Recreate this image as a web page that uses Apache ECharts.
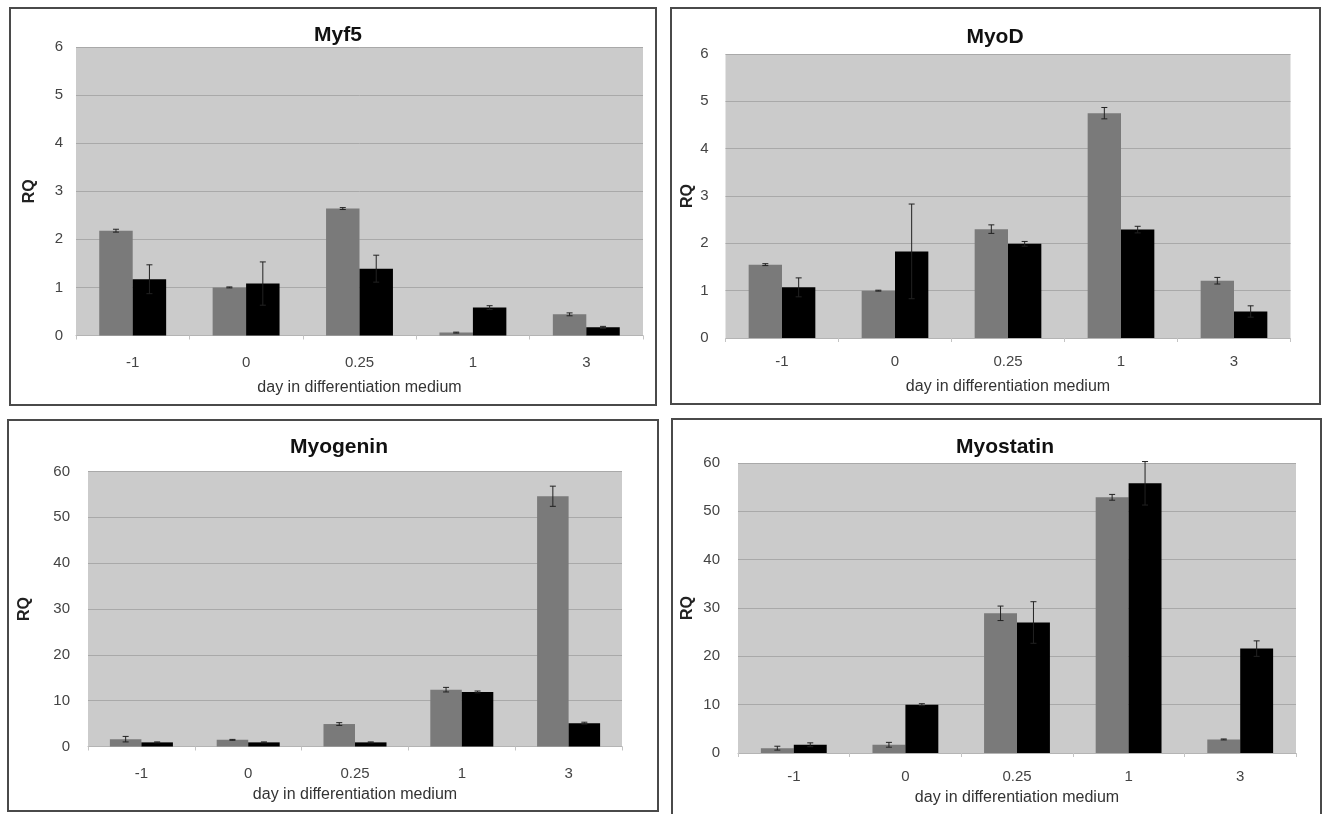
<!DOCTYPE html>
<html>
<head>
<meta charset="utf-8">
<script src="https://cdn.jsdelivr.net/npm/echarts@6/dist/echarts.min.js"></script>
<style>
html,body{margin:0;padding:0;background:#fff;}
#c{width:1326px;height:814px;}
</style>
</head>
<body>
<div id="c"></div>
<script>
// ---- data ----
const categories = ['-1', '0', '0.25', '1', '3'];
const titles = ['Myf5', 'MyoD', 'Myogenin', 'Myostatin'];
const yTicksSmall = [0, 1, 2, 3, 4, 5, 6];
const yTicksLarge = [0, 10, 20, 30, 40, 50, 60];

const myf5Gray     = [2.18, 1.00, 2.64, 0.06, 0.44];
const myf5GrayErr  = [0.03, 0.01, 0.02, 0.01, 0.03];
const myf5Black    = [1.17, 1.08, 1.39, 0.58, 0.17];
const myf5BlackErr = [0.30, 0.45, 0.28, 0.04, 0.02];

const myoDGray     = [1.55, 1.00, 2.30, 4.75, 1.21];
const myoDGrayErr  = [0.02, 0.01, 0.09, 0.12, 0.07];
const myoDBlack    = [1.07, 1.83, 1.99, 2.29, 0.56];
const myoDBlackErr = [0.20, 1.00, 0.05, 0.07, 0.12];

const myogeninGray     = [1.6, 1.45, 4.9, 12.4, 54.6];
const myogeninGrayErr  = [0.6, 0.1, 0.3, 0.5, 2.2];
const myogeninBlack    = [0.9, 0.9, 0.9, 11.9, 5.1];
const myogeninBlackErr = [0.1, 0.1, 0.1, 0.2, 0.2];

const myostatinGray     = [1.0, 1.7, 28.9, 52.9, 2.8];
const myostatinGrayErr  = [0.4, 0.5, 1.5, 0.6, 0.1];
const myostatinBlack    = [1.7, 10.0, 27.0, 55.8, 21.6];
const myostatinBlackErr = [0.4, 0.2, 4.3, 4.5, 1.6];

// ---- layout (not data) ----
const FONT = 'Liberation Sans, Arial, sans-serif';
const CAT_GAP = 0.41;
const panels = [
  {gray: myf5Gray, grayErr: myf5GrayErr, black: myf5Black, blackErr: myf5BlackErr, ticks: yTicksSmall,
   grid: {left: 76, top: 47, width: 567, height: 288.5}, box: [10, 8, 646, 397], tx: 333, ty: 20,
   lblMargin: 20, nameGap: 44, yMargin: 13, rqGap: 38},
  {gray: myoDGray, grayErr: myoDGrayErr, black: myoDBlack, blackErr: myoDBlackErr, ticks: yTicksSmall,
   grid: {left: 725.5, top: 54, width: 565, height: 284}, box: [671, 8, 649, 396], tx: 990, ty: 22,
   lblMargin: 16, nameGap: 41, yMargin: 17, rqGap: 30},
  {gray: myogeninGray, grayErr: myogeninGrayErr, black: myogeninBlack, blackErr: myogeninBlackErr, ticks: yTicksLarge,
   grid: {left: 88, top: 471.5, width: 534, height: 275}, box: [8, 420, 650, 391], tx: 334, ty: 432,
   lblMargin: 20, nameGap: 40, yMargin: 18, rqGap: 55},
  {gray: myostatinGray, grayErr: myostatinGrayErr, black: myostatinBlack, blackErr: myostatinBlackErr, ticks: yTicksLarge,
   grid: {left: 738, top: 463, width: 558, height: 290}, box: [672, 419, 649, 400], tx: 1000, ty: 432,
   lblMargin: 16, nameGap: 37, yMargin: 18, rqGap: 42}
];

function errRender(side) {
  return function (params, api) {
    const cat = api.value(0), val = api.value(1), err = api.value(2);
    const center = api.coord([cat, val]);
    const band = api.size([1, 0])[0];
    const bw = band * (1 - CAT_GAP) / 2;
    const x = center[0] + side * bw / 2;
    const top = api.coord([cat, val + err])[1];
    const bot = api.coord([cat, Math.max(0, val - err)])[1];
    const cap = 3;
    const style = {stroke: '#222', lineWidth: 1, fill: null};
    return {
      type: 'group',
      children: [
        {type: 'line', shape: {x1: x, y1: top, x2: x, y2: bot}, style: style},
        {type: 'line', shape: {x1: x - cap, y1: top, x2: x + cap, y2: top}, style: style},
        {type: 'line', shape: {x1: x - cap, y1: bot, x2: x + cap, y2: bot}, style: style}
      ]
    };
  };
}

const option = {
  backgroundColor: '#ffffff',
  animation: false,
  title: [], grid: [], xAxis: [], yAxis: [], series: [], graphic: []
};

panels.forEach((p, i) => {
  option.title.push({
    text: titles[i], left: p.tx, top: p.ty, textAlign: 'center',
    textStyle: {fontFamily: FONT, fontSize: 21, fontWeight: 'bold', color: '#111'}
  });
  option.grid.push(Object.assign({show: true, backgroundColor: '#cbcbcb', borderWidth: 0}, p.grid));
  option.xAxis.push({
    type: 'category', gridIndex: i, data: categories,
    name: 'day in differentiation medium', nameLocation: 'middle', nameGap: p.nameGap,
    nameTextStyle: {fontFamily: FONT, fontSize: 16, color: '#333'},
    axisLine: {show: true, lineStyle: {color: '#b4b4b4', width: 1}},
    axisTick: {show: true, length: 4, lineStyle: {color: '#c4c4c4'}},
    axisLabel: {fontFamily: FONT, fontSize: 15, color: '#444', margin: p.lblMargin},
    splitLine: {show: false}
  });
  const tk = p.ticks;
  option.yAxis.push({
    type: 'value', gridIndex: i, min: tk[0], max: tk[tk.length - 1], interval: tk[1] - tk[0],
    name: 'RQ', nameLocation: 'middle', nameGap: p.rqGap,
    nameTextStyle: {fontFamily: FONT, fontSize: 16, fontWeight: 'bold', color: '#222'},
    axisLine: {show: false}, axisTick: {show: false},
    axisLabel: {fontFamily: FONT, fontSize: 15, color: '#444', margin: p.yMargin},
    splitLine: {show: true, lineStyle: {color: '#a9a9a9', width: 1}}
  });
  option.series.push({
    type: 'bar', xAxisIndex: i, yAxisIndex: i, data: p.gray,
    itemStyle: {color: '#7a7a7a'}, barGap: '0%', barCategoryGap: (CAT_GAP * 100) + '%'
  });
  option.series.push({
    type: 'bar', xAxisIndex: i, yAxisIndex: i, data: p.black,
    itemStyle: {color: '#000000'}, barGap: '0%', barCategoryGap: (CAT_GAP * 100) + '%'
  });
  option.series.push({
    type: 'custom', xAxisIndex: i, yAxisIndex: i, z: 5, clip: false,
    renderItem: errRender(-1),
    data: categories.map((c, k) => [k, p.gray[k], p.grayErr[k]])
  });
  option.series.push({
    type: 'custom', xAxisIndex: i, yAxisIndex: i, z: 5, clip: false,
    renderItem: errRender(1),
    data: categories.map((c, k) => [k, p.black[k], p.blackErr[k]])
  });
  option.graphic.push({
    type: 'rect', shape: {x: p.box[0], y: p.box[1], width: p.box[2], height: p.box[3]},
    style: {fill: null, stroke: '#4a4a4a', lineWidth: 2}, silent: true, z: 10
  });
});

const chart = echarts.init(document.getElementById('c'), null, {renderer: 'canvas'});
chart.setOption(option);
</script>
</body>
</html>
